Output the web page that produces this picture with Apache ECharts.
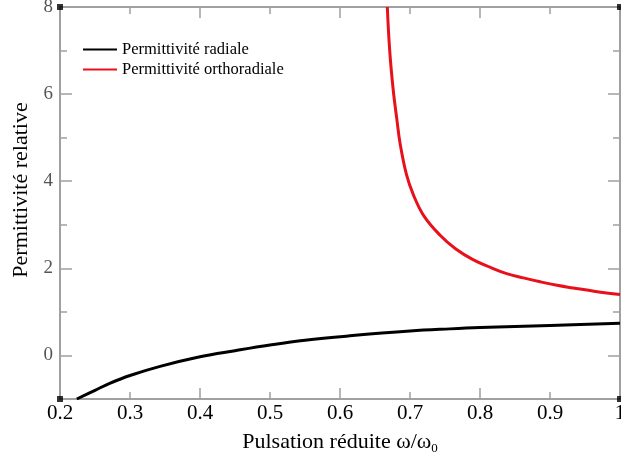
<!DOCTYPE html>
<html>
<head>
<meta charset="utf-8">
<script src="https://cdn.jsdelivr.net/npm/echarts@6/dist/echarts.min.js"></script>
<style>html,body{margin:0;padding:0;background:#fff}#c{width:621px;height:469px}</style>
</head>
<body>
<div id="c"></div>
<script>
var omegaRadial = [0.224, 0.25, 0.271, 0.3, 0.343, 0.4, 0.45, 0.5, 0.55, 0.614, 0.7, 0.757, 0.8, 0.9, 1.0];
var epsRadial   = [-1.0, -0.80, -0.64, -0.46, -0.25, -0.03, 0.11, 0.24, 0.35, 0.45, 0.56, 0.61, 0.64, 0.69, 0.74];
var omegaOrtho = [0.6676, 0.671, 0.676, 0.681, 0.686, 0.695, 0.705, 0.72, 0.743, 0.765, 0.79, 0.815, 0.838, 0.862, 0.886, 0.91, 0.933, 0.965, 1.0];
var epsOrtho   = [8.0, 7.0, 6.1, 5.45, 4.85, 4.15, 3.68, 3.2, 2.76, 2.45, 2.2, 2.02, 1.88, 1.78, 1.69, 1.61, 1.55, 1.47, 1.40];
var xMajorTicks = [0.2, 0.4, 0.6, 0.8, 1.0];
var xMinorTicks = [0.3, 0.5, 0.7, 0.9];
var xLabels = [0.2, 0.3, 0.4, 0.5, 0.6, 0.7, 0.8, 0.9, 1.0];
var yMajorTicks = [0, 2, 4, 6, 8];
var yMinorTicks = [-1, 1, 3, 5, 7];
var corners = [[0.2, -1], [1.0, -1], [0.2, 8], [1.0, 8]];

function zip(a, b) { return a.map(function (v, i) { return [v, b[i]]; }); }

var serif = 'Liberation Serif';
var axisCol = '#a0a0a0';

function xAx(pos, ticks, len, showLabel, showLine) {
  return {
    type: 'value', position: pos, min: 0.2, max: 1.0,
    axisLine: { show: showLine, onZero: false, lineStyle: { color: axisCol, width: 2 } },
    axisTick: { show: true, inside: true, length: len, customValues: ticks, lineStyle: { color: axisCol, width: 1.5 } },
    axisLabel: { show: showLabel, customValues: xLabels, margin: 4, color: '#000', fontFamily: serif, fontSize: 21,
      formatter: function (v) { return Math.abs(v - 1) < 1e-9 ? '1' : v.toFixed(1); } },
    splitLine: { show: false }
  };
}
function yAx(pos, ticks, len, showLabel, showLine) {
  return {
    type: 'value', position: pos, min: -1, max: 8,
    axisLine: { show: showLine, onZero: false, lineStyle: { color: axisCol, width: 2 } },
    axisTick: { show: true, inside: true, length: len, customValues: ticks, lineStyle: { color: axisCol, width: 1.5 } },
    axisLabel: { show: showLabel, customValues: yMajorTicks, margin: 7, color: '#555', fontFamily: serif, fontSize: 19 },
    splitLine: { show: false }
  };
}

var xAxes = [
  xAx('bottom', xMajorTicks, 11, true, true),
  xAx('bottom', xMinorTicks, 7, false, false),
  xAx('top', xMajorTicks, 11, false, true),
  xAx('top', xMinorTicks, 7, false, false)
];
xAxes[0].name = '{a|Pulsation réduite ω/ω}{s|0}';
xAxes[0].nameLocation = 'middle';
xAxes[0].nameGap = 30;
xAxes[0].nameTextStyle = { rich: { a: { fontFamily: serif, fontSize: 22, color: '#000' }, s: { fontFamily: serif, fontSize: 13, color: '#000', verticalAlign: 'bottom', padding: [13, 0, 0, 0] } } };

var yAxes = [
  yAx('left', yMajorTicks, 12, true, true),
  yAx('left', yMinorTicks, 7, false, false),
  yAx('right', yMajorTicks, 12, false, true),
  yAx('right', yMinorTicks, 7, false, false)
];
yAxes[0].name = 'Permittivité relative';
yAxes[0].nameLocation = 'middle';
yAxes[0].nameGap = 25;
yAxes[0].nameTextStyle = { fontFamily: serif, fontSize: 22, color: '#000', padding: [0, 0, 0, 26] };

var chart = echarts.init(document.getElementById('c'), null, { renderer: 'canvas' });
chart.setOption({
  animation: false,
  backgroundColor: '#fff',
  grid: { left: 60, right: 1, top: 7, bottom: 70, containLabel: false, outerBoundsMode: 'none' },
  xAxis: xAxes,
  yAxis: yAxes,
  legend: {
    orient: 'vertical', left: 78, top: 36, itemWidth: 34, itemHeight: 2, itemGap: 3, icon: 'rect',
    textStyle: { fontFamily: serif, fontSize: 16.5, color: '#000' },
    data: ['Permittivité radiale', 'Permittivité orthoradiale']
  },
  series: [
    { name: 'Permittivité radiale', type: 'line', data: zip(omegaRadial, epsRadial), smooth: 0.4, symbol: 'none',
      lineStyle: { color: '#000', width: 3 }, itemStyle: { color: '#000' } },
    { name: 'Permittivité orthoradiale', type: 'line', data: zip(omegaOrtho, epsOrtho), smooth: 0.4, symbol: 'none',
      lineStyle: { color: '#e8101a', width: 3 }, itemStyle: { color: '#e8101a' } },
    { type: 'scatter', data: corners, symbol: 'rect', symbolSize: 6, itemStyle: { color: '#000' }, silent: true, z: 5 }
  ]
});
</script>
</body>
</html>
